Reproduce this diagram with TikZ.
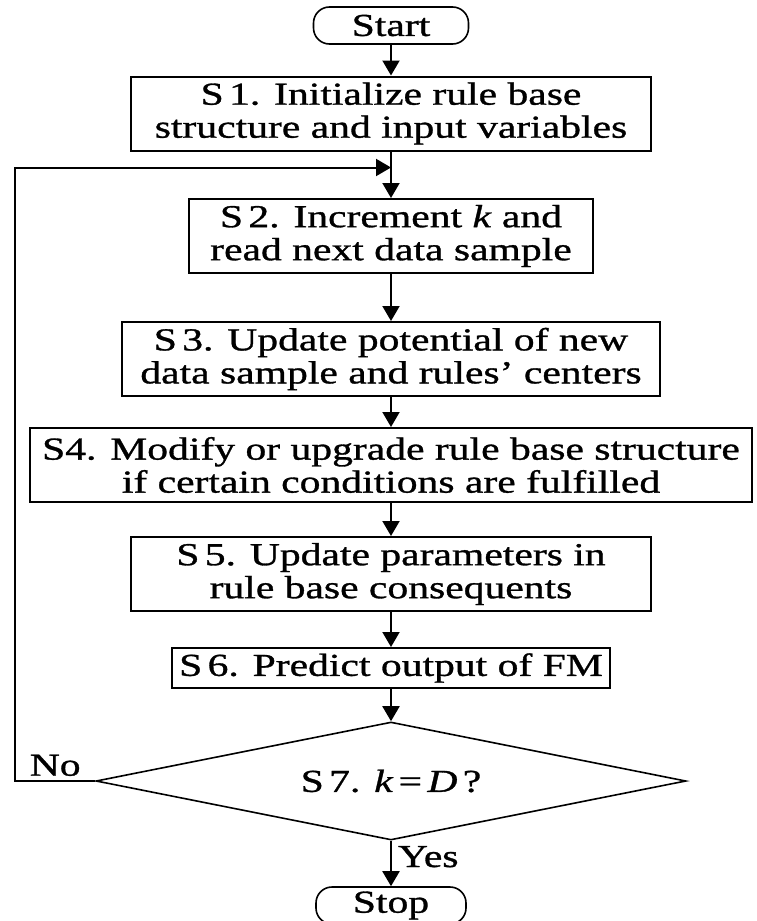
\documentclass[tikz,border=0pt]{standalone}
\usepackage{fontspec}
\setmainfont{Liberation Serif}[FakeStretch=1.3, FakeBold=1]
\usepackage{tikz}
\usetikzlibrary{shapes.geometric, arrows.meta, positioning}
\tikzstyle{process} = [rectangle, draw=black, line width=1pt, align=center, inner sep=0pt, minimum height=37pt]
\tikzstyle{term} = [rectangle, rounded corners=8pt, draw=black, line width=0.8pt, minimum width=77.5pt, minimum height=18.5pt, inner sep=0pt]
\tikzstyle{decision} = [diamond, aspect=5, draw=black, line width=0.8pt, minimum width=295pt, minimum height=59pt, inner sep=0pt]
\tikzstyle{arrow} = [line width=1pt,-{Triangle[width=8.5pt,length=7.5pt]},draw=black]

\begin{document}
\begin{tikzpicture}[node distance=60pt, text centered, font=\fontsize{16pt}{16.5pt}\selectfont]
        \useasboundingbox (0,0) rectangle (378pt,-460.5pt);
        \node (start) [term] at (195.5pt,-12.75pt) {Start};
        \node (S1) [process, minimum width=260pt, node distance=44pt] [below of=start] {S\,1. Initialize rule base\\structure and input variables};
        \node (S2) [process, minimum width=202pt, node distance=61.25pt] [below of=S1] {S\,2. Increment \textit{k} and\\read next data sample};
        \node (S3) [process, minimum width=269pt, node distance=61.5pt] [below of=S2] {S\,3. Update potential of new\\data sample and rules' centers};
        \node (S4) [process, minimum width=361pt, node distance=53pt] [below of=S3] {S4. Modify or upgrade rule base structure\\if certain conditions are fulfilled};
        \node (S5) [process, minimum width=260pt, node distance=54.5pt] [below of=S4] {S\,5. Update parameters in\\rule base consequents};
        \node (S6) [process, minimum width=219pt, minimum height=20pt, node distance=47pt] [below of=S5] {S\,6. Predict output of FM};
        \node (S7) [decision, node distance=56.5pt] [below of=S6] {S\,7. \textit{k}\,=\,\textit{D}\,?};
        \node (stop) [term, minimum width=75pt, node distance=62.25pt] [below of=S7] {Stop};

        \coordinate [below=8pt of S1] (join);
        \coordinate [left=40pt of S7] (back);

        \path[arrow] (start) edge (S1);
        \path[arrow] (S1) edge (S2);
        \path[arrow] (S2) edge (S3);
        \path[arrow] (S3) edge (S4);
        \path[arrow] (S4) edge (S5);
        \path[arrow] (S5) edge (S6);
        \path[arrow] (S6) edge (S7);
        \path[arrow] (S7) edge node[right, pos=0.35, inner sep=3pt] {Yes} (stop);
        %\path[arrow] (S7) edge node {No} (S2);
        \draw[arrow] (S7) -- node[above, inner sep=2pt] {No} (back) |- (join);

    \end{tikzpicture}
\end{document}
